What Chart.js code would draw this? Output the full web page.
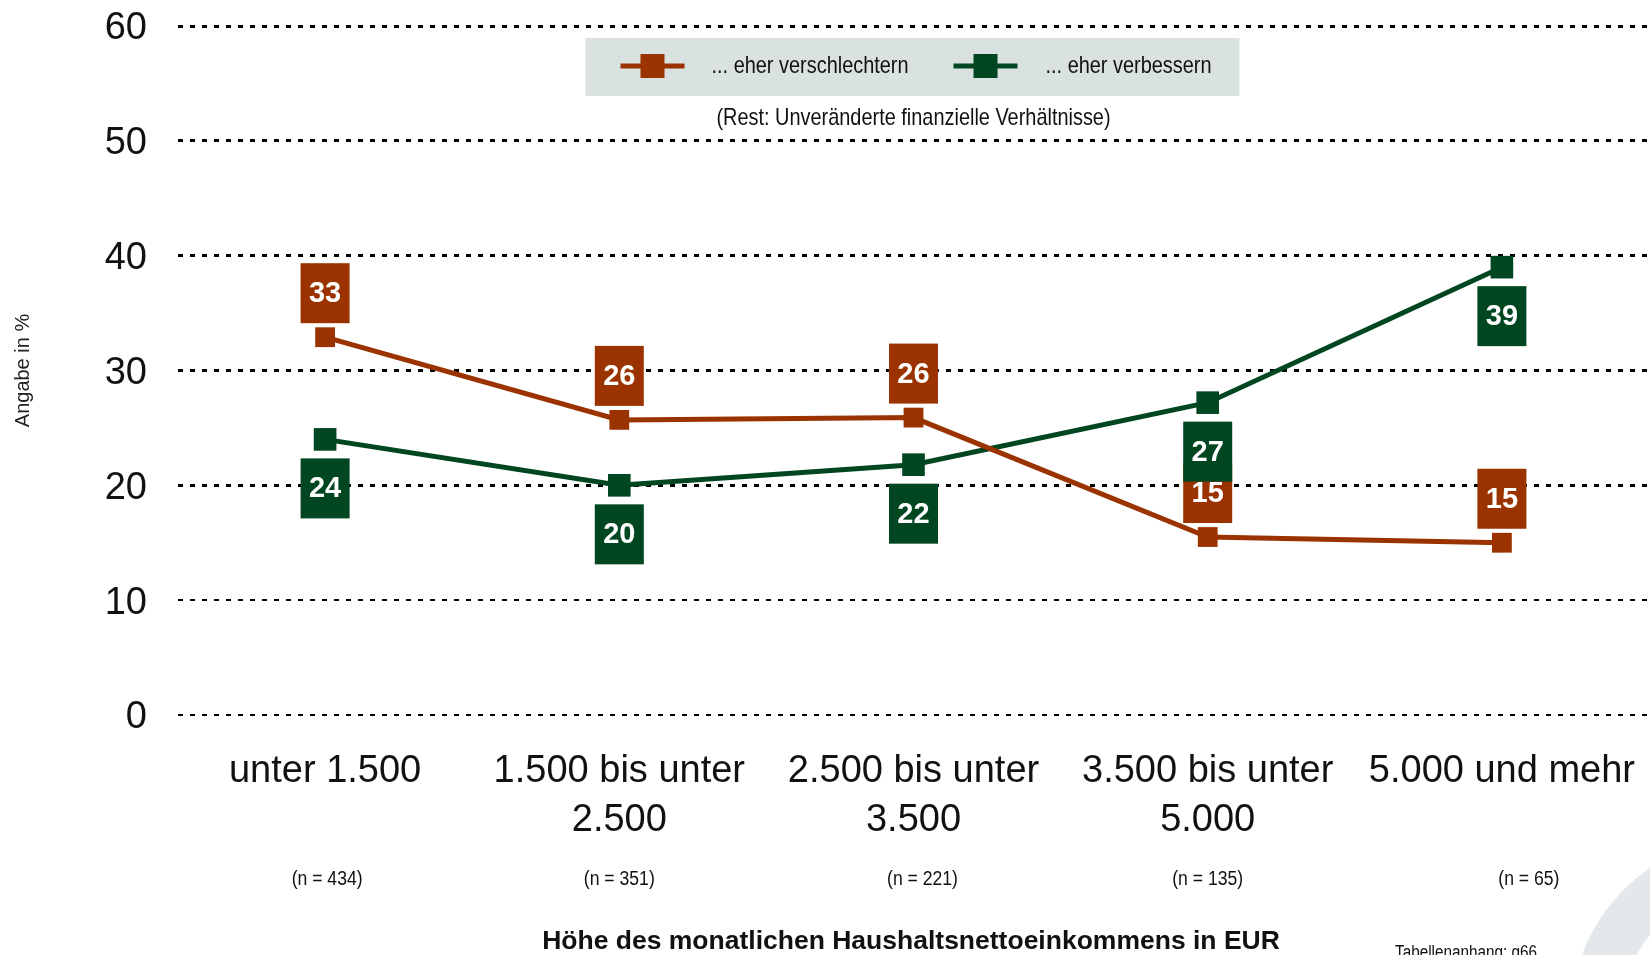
<!DOCTYPE html>
<html>
<head>
<meta charset="utf-8">
<script src="https://cdn.jsdelivr.net/npm/chart.js@4.4.0/dist/chart.umd.min.js"></script>
<style>
  body { margin: 0; background: #fff; }
  #wrap { width: 1650px; height: 955px; }
</style>
</head>
<body>
<div id="wrap"><canvas id="chart" width="1650" height="955"></canvas></div>
<script>
// Einkommensklassen
const kategorien = [
  'unter 1.500',
  ['1.500 bis unter', '2.500'],
  ['2.500 bis unter', '3.500'],
  ['3.500 bis unter', '5.000'],
  '5.000 und mehr'
];
const fallzahlen = ['(n = 434)', '(n = 351)', '(n = 221)', '(n = 135)', '(n = 65)'];

const verschlechtern = [32.9, 25.7, 25.9, 15.5, 15.0];
const verbessern = [24.0, 20.0, 21.8, 27.2, 39.0];
const labelsVerschlechtern = ['33', '26', '26', '15', '15'];
const labelsVerbessern = ['24', '20', '22', '27', '39'];

const yTicks = [0, 10, 20, 30, 40, 50, 60];

const ROT = 'rgb(155,51,0)';
const GRUEN = 'rgb(0,70,32)';
const SANS = '"Liberation Sans", Arial, sans-serif';

// schmale Schrift nachbilden (kein Arial Narrow installiert)
function narrowText(ctx, text, x, y, size, squeeze, align) {
  ctx.save();
  ctx.translate(x, y);
  ctx.scale(squeeze, 1);
  ctx.font = size + 'px ' + SANS;
  ctx.textAlign = align || 'center';
  ctx.textBaseline = 'middle';
  ctx.fillText(text, 0, 0);
  ctx.restore();
}

// Kästchen mit Werten über/unter den Punkten
const boxLabels = {
  id: 'boxLabels',
  afterDatasetsDraw(chart) {
    const ctx = chart.ctx;
    ctx.save();
    chart.data.datasets.forEach((ds, i) => {
      const meta = chart.getDatasetMeta(i);
      meta.data.forEach((pt, j) => {
        const cy = pt.y + ds.labelShift;
        ctx.fillStyle = ds.borderColor;
        ctx.fillRect(pt.x - 24.5, cy - 30, 49, 60);
        ctx.fillStyle = '#fff';
        ctx.font = 'bold 29px ' + SANS;
        ctx.textAlign = 'center';
        ctx.textBaseline = 'middle';
        ctx.fillText(ds.boxTexts[j], pt.x, cy + 1);
      });
    });
    ctx.restore();
  }
};

// Legende, Hinweise, Achsentitel unten
const extras = {
  id: 'extras',
  beforeDraw(chart) {
    // Logo-Rest rechts unten
    const ctx = chart.ctx;
    ctx.save();
    ctx.strokeStyle = '#e3e8ea';
    ctx.lineWidth = 50;
    ctx.beginPath();
    ctx.arc(1755, 1020, 160, 0, Math.PI * 2);
    ctx.stroke();
    ctx.restore();
  },
  afterDraw(chart) {
    const ctx = chart.ctx;
    const area = chart.chartArea;
    const cx = (area.left + area.right) / 2;
    ctx.save();

    // Legendenkasten
    ctx.fillStyle = '#d9e1e1';
    ctx.fillRect(cx - 328, 38, 654, 58);
    const items = [
      { ds: chart.data.datasets[0], mx: cx - 261, tx: cx - 202 },
      { ds: chart.data.datasets[1], mx: cx + 72, tx: cx + 132 }
    ];
    items.forEach(it => {
      ctx.strokeStyle = it.ds.borderColor;
      ctx.lineWidth = 5;
      ctx.beginPath();
      ctx.moveTo(it.mx - 32, 66);
      ctx.lineTo(it.mx + 32, 66);
      ctx.stroke();
      ctx.fillStyle = it.ds.borderColor;
      ctx.fillRect(it.mx - 12, 54, 24, 24);
      ctx.fillStyle = '#111';
      narrowText(ctx, it.ds.label, it.tx, 66, 24, 0.83, 'left');
    });

    ctx.fillStyle = '#111';
    narrowText(ctx, '(Rest: Unveränderte finanzielle Verhältnisse)', cx, 118, 24, 0.83);

    // Fallzahlen
    const xs = chart.scales.x;
    const nShift = [2, 0, 9, 0, 27];
    fallzahlen.forEach((t, i) => {
      narrowText(ctx, t, xs.getPixelForValue(i) + nShift[i], 879, 20, 0.88);
    });

    // Achsentitel unten
    ctx.font = 'bold 26.5px ' + SANS;
    ctx.textAlign = 'center';
    ctx.textBaseline = 'middle';
    ctx.fillText('Höhe des monatlichen Haushaltsnettoeinkommens in EUR', 911, 942);

    narrowText(ctx, 'Tabellenanhang: g66', 1395, 953, 18, 0.85, 'left');

    ctx.restore();
  }
};

new Chart(document.getElementById('chart'), {
  type: 'line',
  data: {
    labels: kategorien,
    datasets: [{
      label: '... eher verschlechtern',
      data: verschlechtern,
      boxTexts: labelsVerschlechtern,
      labelShift: -44,
      borderColor: ROT,
      backgroundColor: ROT,
      borderWidth: 5,
      pointStyle: 'rect',
      pointRadius: 14,
      pointBorderWidth: 0,
      tension: 0,
      fill: false
    }, {
      label: '... eher verbessern',
      data: verbessern,
      boxTexts: labelsVerbessern,
      labelShift: 49,
      borderColor: GRUEN,
      backgroundColor: GRUEN,
      borderWidth: 5,
      pointStyle: 'rect',
      pointRadius: 16,
      pointBorderWidth: 0,
      tension: 0,
      fill: false
    }]
  },
  options: {
    responsive: false,
    animation: false,
    layout: { autoPadding: false, padding: { top: 0, right: 1, left: 0, bottom: 0 } },
    plugins: {
      legend: { display: false },
      tooltip: { enabled: false },
      title: { display: false }
    },
    scales: {
      x: {
        offset: true,
        grid: { display: false, drawTicks: true, tickLength: 32 },
        border: { display: false },
        ticks: {
          color: '#111',
          padding: 0,
          maxRotation: 0,
          autoSkip: false,
          font: { family: SANS, size: 38, lineHeight: 1.29 }
        },
        afterFit(scale) {
          scale.height = 240;
          scale.paddingLeft = 0;
          scale.paddingRight = 0;
        }
      },
      y: {
        min: 0,
        max: 60,
        afterBuildTicks(scale) { scale.ticks = yTicks.map(v => ({ value: v })); },
        grid: {
          color: '#000',
          lineWidth: c => (c.tick && c.tick.value >= 20 ? 3 : 2),
          drawTicks: false
        },
        border: { display: false, dash: [5, 7] },
        ticks: {
          color: '#111',
          padding: 31,
          labelOffset: 3,
          font: { family: SANS, size: 38 }
        },
        title: {
          display: true,
          text: 'Angabe in %',
          color: '#222',
          padding: { top: 11, bottom: 0 },
          font: { family: SANS, size: 20 }
        },
        afterFit(scale) {
          scale.width = 178;
          scale.paddingTop = 26;
          scale.paddingBottom = 0;
        }
      }
    }
  },
  plugins: [boxLabels, extras]
});
</script>
</body>
</html>
